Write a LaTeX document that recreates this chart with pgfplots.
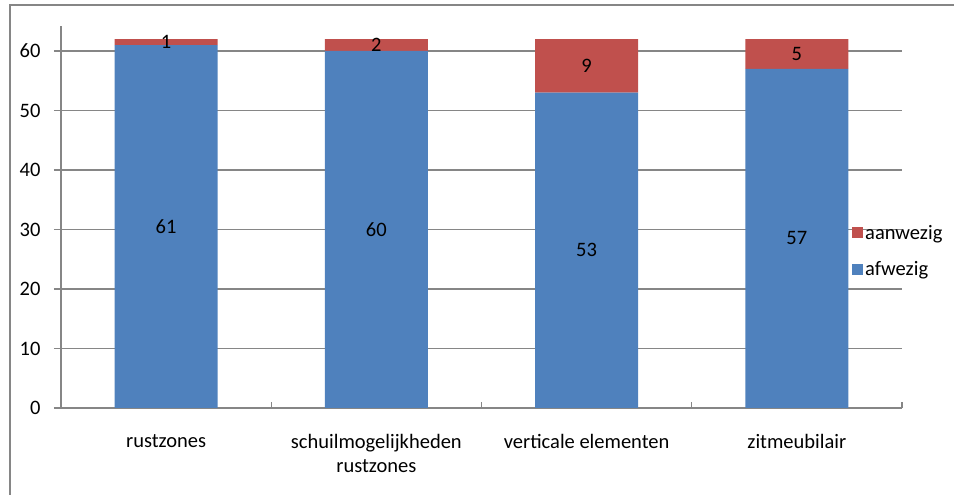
\documentclass[border=0pt]{standalone}
\usepackage{fontspec}
\setmainfont{Carlito}
\usepackage{pgfplots}
\pgfplotsset{compat=1.18}

\definecolor{afw}{HTML}{4F81BD}
\definecolor{aanw}{HTML}{C0504D}
\definecolor{linegray}{HTML}{868686}
\newcommand\chartfont{\fontsize{20.5}{24}\selectfont}

\begin{document}
\begin{tikzpicture}[x=1pt,y=1pt]
\begin{axis}[
  at={(61pt,87pt)}, anchor=south west,
  scale only axis, width=841pt, height=382pt,
  ybar stacked, bar width=0.49,
  xmin=-0.5, xmax=3.5, ymin=0, ymax=64.2,
  xtick={0,1,2,3},
  xticklabels={rustzones, {schuilmogelijkheden\\rustzones}, verticale elementen, zitmeubilair},
  x tick label style={align=center, font=\chartfont, yshift=-16pt},
  xtick style={draw=none},
  extra x ticks={0.5,1.5,2.5,3.5},
  extra x tick labels={},
  extra x tick style={xtick style={draw=linegray, line width=1.2pt}, tick align=inside, major tick length=6pt, grid=none},
  ytick={0,10,...,60},
  y tick label style={font=\chartfont, xshift=-10pt},
  ytick style={draw=linegray, line width=1.2pt},
  tick align=outside, major tick length=7pt,
  /pgf/number format/assume math mode=true,
  ymajorgrids, grid style={linegray, line width=1.2pt},
  axis x line*=bottom, axis y line*=left,
  axis line style={linegray, line width=1.2pt, -},
  % value labels in the middle of each segment
  nodes near coords,
  every node near coord/.append style={anchor=center, text=black, font=\chartfont},
  legend style={at={(0.937,0.41)}, anchor=west, draw=none, fill=none,
    font=\chartfont, row sep=17pt, legend cell align=left},
  reverse legend,
  legend image code/.code={\fill[#1] (0pt,-5pt) rectangle (11pt,6pt);},
]
\addplot[fill=afw, draw=none] coordinates {(0,61) (1,60) (2,53) (3,57)};
\addplot[fill=aanw, draw=none] coordinates {(0,1) (1,2) (2,9) (3,5)};
\legend{afwezig, aanwezig}
\end{axis}
\draw[linegray, line width=2pt] (10,-10) -- (10,490) -- (964,490);
\pgfresetboundingbox
\useasboundingbox (0,0) rectangle (954,495);
\end{tikzpicture}
\end{document}
